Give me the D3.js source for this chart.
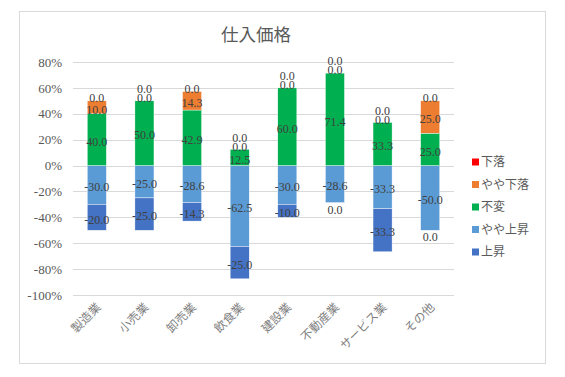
<!DOCTYPE html>
<html>
<head>
<meta charset="utf-8">
<script src="https://cdn.jsdelivr.net/npm/d3@7"></script>
<style>
  body { margin: 0; background: #fff; }
</style>
</head>
<body>
<div id="chart"></div>
<script>
// data
var categories = ["製造業", "小売業", "卸売業", "飲食業", "建設業", "不動産業", "サービス業", "その他"];
var seriesNames = ["下落", "やや下落", "不変", "やや上昇", "上昇"];
var rise = [-20.0, -25.0, -14.3, -25.0, -10.0, 0.0, -33.3, 0.0];         // 上昇
var slightRise = [-30.0, -25.0, -28.6, -62.5, -30.0, -28.6, -33.3, -50.0]; // やや上昇
var same = [40.0, 50.0, 42.9, 12.5, 60.0, 71.4, 33.3, 25.0];               // 不変
var slightFall = [10.0, 0.0, 14.3, 0.0, 0.0, 0.0, 0.0, 25.0];              // やや下落
var fall = [0.0, 0.0, 0.0, 0.0, 0.0, 0.0, 0.0, 0.0];                       // 下落
var yTicks = [80, 60, 40, 20, 0, -20, -40, -60, -80, -100];

var colors = {
  "下落": "#FF0000",
  "やや下落": "#ED7D31",
  "不変": "#00B050",
  "やや上昇": "#5B9BD5",
  "上昇": "#4472C4"
};

var w = 565, h = 377;
var cjk = "'Noto Sans CJK JP', sans-serif";
var serif = "'Liberation Serif', serif";

// plain hyphen for negatives, like the original
var loc = d3.formatLocale({decimal: ".", thousands: ",", grouping: [3], currency: ["", ""], minus: "-"});
var fmt1 = loc.format(".1f");

var table = categories.map(function (c, i) {
  return {cat: c, "上昇": rise[i], "やや上昇": slightRise[i], "不変": same[i], "やや下落": slightFall[i], "下落": fall[i]};
});

// stacking order: negatives from zero down, positives from zero up
var keys = ["やや上昇", "上昇", "不変", "やや下落", "下落"];
var stacked = d3.stack().keys(keys).offset(d3.stackOffsetDiverging)(table);

var svg = d3.select("#chart").append("svg")
  .attr("width", w)
  .attr("height", h);

svg.append("rect")
  .attr("x", 19.5).attr("y", 11.5)
  .attr("width", 526).attr("height", 352)
  .attr("fill", "#fff")
  .attr("stroke", "#d9d9d9");

svg.append("text")
  .attr("x", 256).attr("y", 41)
  .attr("text-anchor", "middle")
  .attr("font-family", cjk)
  .attr("font-size", 17.5)
  .attr("fill", "#595959")
  .text("仕入価格");

var x = d3.scaleBand().domain(categories).range([73, 454]).paddingInner(0.6).paddingOuter(0.3);
var y = d3.scaleLinear().domain([-100, 80]).range([295, 62]);

// gridlines
svg.append("g")
  .selectAll("line")
  .data(yTicks)
  .join("line")
    .attr("x1", 73).attr("x2", 454)
    .attr("y1", function (d) { return Math.round(y(d)) + 0.5; })
    .attr("y2", function (d) { return Math.round(y(d)) + 0.5; })
    .attr("stroke", "#d9d9d9");

var yAxis = d3.axisLeft(y)
  .tickValues(yTicks)
  .tickSize(0)
  .tickPadding(11)
  .tickFormat(function (d) { return loc.format("d")(d) + "%"; });

var gy = svg.append("g")
  .attr("transform", "translate(73,0)")
  .call(yAxis);
gy.select(".domain").remove();
gy.selectAll("text")
  .attr("font-family", serif)
  .attr("font-size", 13)
  .attr("fill", "#595959");

// bars
var layers = svg.append("g")
  .selectAll("g")
  .data(stacked)
  .join("g")
    .attr("fill", function (d) { return colors[d.key]; });

layers.selectAll("rect")
  .data(function (d) { return d; })
  .join("rect")
    .attr("x", function (d) { return x(d.data.cat); })
    .attr("width", x.bandwidth())
    .attr("y", function (d) { return y(Math.max(d[0], d[1])); })
    .attr("height", function (d) { return Math.abs(y(d[0]) - y(d[1])); })
    .attr("stroke", "#fff")
    .attr("stroke-width", 0.4);

// data labels
var labels = [];
categories.forEach(function (c, i) {
  var zeroUp = 0;
  var top = 0, bottom = 0;
  stacked.forEach(function (s) {
    var d = s[i];
    top = Math.max(top, d[1]);
    bottom = Math.min(bottom, d[0]);
  });
  stacked.forEach(function (s) {
    var d = s[i];
    var v = d.data[s.key];
    var ly;
    if (v !== 0) {
      ly = y((d[0] + d[1]) / 2) + 2;
    } else if (s.key === "上昇") {
      ly = y(bottom) + 7;
    } else {
      ly = y(top) - 3 - 9 * zeroUp;
      zeroUp++;
    }
    labels.push({cat: c, v: v, y: ly});
  });
});

svg.append("g")
  .selectAll("text")
  .data(labels)
  .join("text")
    .attr("x", function (d) { return x(d.cat) + x.bandwidth() / 2; })
    .attr("y", function (d) { return d.y; })
    .attr("dy", "0.35em")
    .attr("text-anchor", "middle")
    .attr("font-family", serif)
    .attr("font-size", 12)
    .attr("fill", "#404040")
    .text(function (d) { return fmt1(d.v); });

// x labels
svg.append("g")
  .selectAll("text")
  .data(categories)
  .join("text")
    .attr("transform", function (d) {
      return "translate(" + (x(d) + x.bandwidth() / 2 + 5) + ",308) rotate(-45)";
    })
    .attr("text-anchor", "end")
    .attr("font-family", cjk)
    .attr("font-size", 12)
    .attr("fill", "#7f7f7f")
    .text(function (d) { return d; });

// legend
var legend = svg.append("g")
  .selectAll("g")
  .data(seriesNames)
  .join("g")
    .attr("transform", function (d, i) { return "translate(472," + (162 + i * 22.5) + ")"; });

legend.append("rect")
  .attr("x", 0).attr("y", -3.5)
  .attr("width", 7).attr("height", 7)
  .attr("fill", function (d) { return colors[d]; });

legend.append("text")
  .attr("x", 9).attr("dy", "0.35em")
  .attr("font-family", cjk)
  .attr("font-size", 12)
  .attr("fill", "#595959")
  .text(function (d) { return d; });
</script>
</body>
</html>
